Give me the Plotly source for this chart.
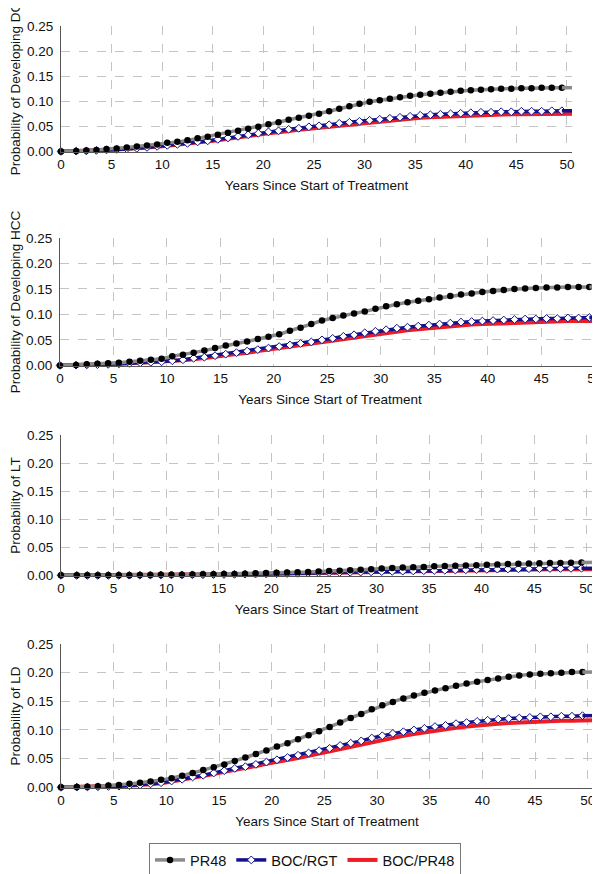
import plotly.graph_objects as go
from plotly.subplots import make_subplots

# sample times (first point, mid-cycle points, end of horizon)
years = [0] + [k + 0.5 for k in range(1, 51)]

y_titles = [
    "Probability of Developing DC",
    "Probability of Developing HCC",
    "Probability of LT",
    "Probability of LD",
]
x_title = "Years Since Start of Treatment"
series_names = ["PR48", "BOC/RGT", "BOC/PR48"]
y_ticks = [0.0, 0.05, 0.10, 0.15, 0.20, 0.25]
x_ticks = [0, 5, 10, 15, 20, 25, 30, 35, 40, 45, 50]

dc_pr48 = [0, 0.001, 0.002, 0.003, 0.005, 0.006, 0.008, 0.010, 0.012, 0.014,
           0.017, 0.019, 0.022, 0.026, 0.029, 0.033, 0.037, 0.041, 0.045, 0.049,
           0.054, 0.058, 0.063, 0.067, 0.071, 0.075, 0.080, 0.085, 0.090, 0.095,
           0.099, 0.102, 0.105, 0.108, 0.111, 0.113, 0.115, 0.117, 0.119, 0.121,
           0.122, 0.123, 0.124, 0.125, 0.125, 0.126, 0.126, 0.127, 0.127, 0.127,
           0.127]
dc_rgt = [0, 0.0005, 0.001, 0.002, 0.003, 0.004, 0.005, 0.006, 0.008, 0.010,
          0.012, 0.014, 0.016, 0.019, 0.021, 0.024, 0.027, 0.030, 0.033, 0.036,
          0.039, 0.041, 0.044, 0.046, 0.049, 0.051, 0.053, 0.056, 0.058, 0.060,
          0.062, 0.064, 0.066, 0.068, 0.070, 0.072, 0.073, 0.074, 0.075, 0.076,
          0.077, 0.078, 0.078, 0.079, 0.079, 0.080, 0.080, 0.080, 0.081, 0.081,
          0.081]
dc_boc48 = [0, 0.0005, 0.001, 0.002, 0.003, 0.004, 0.005, 0.006, 0.007, 0.009,
            0.011, 0.013, 0.015, 0.017, 0.020, 0.022, 0.025, 0.028, 0.030, 0.033,
            0.036, 0.038, 0.041, 0.043, 0.045, 0.047, 0.050, 0.052, 0.054, 0.056,
            0.058, 0.060, 0.062, 0.064, 0.065, 0.067, 0.068, 0.069, 0.070, 0.071,
            0.072, 0.072, 0.073, 0.073, 0.074, 0.074, 0.074, 0.075, 0.075, 0.075,
            0.075]

hcc_pr48 = [0, 0.001, 0.002, 0.003, 0.004, 0.005, 0.007, 0.009, 0.011, 0.013,
            0.018, 0.021, 0.025, 0.029, 0.034, 0.039, 0.043, 0.047, 0.052, 0.056,
            0.061, 0.068, 0.074, 0.081, 0.088, 0.093, 0.098, 0.102, 0.106, 0.111,
            0.116, 0.120, 0.124, 0.127, 0.130, 0.133, 0.136, 0.139, 0.141, 0.144,
            0.146, 0.148, 0.150, 0.151, 0.152, 0.153, 0.153, 0.154, 0.154, 0.154,
            0.154]
hcc_rgt = [0, 0.0005, 0.001, 0.0015, 0.002, 0.003, 0.004, 0.005, 0.006, 0.007,
           0.009, 0.011, 0.014, 0.016, 0.019, 0.022, 0.025, 0.028, 0.031, 0.034,
           0.037, 0.040, 0.043, 0.046, 0.050, 0.053, 0.057, 0.060, 0.064, 0.067,
           0.070, 0.073, 0.075, 0.077, 0.079, 0.081, 0.083, 0.085, 0.086, 0.087,
           0.088, 0.089, 0.090, 0.091, 0.091, 0.092, 0.092, 0.093, 0.093, 0.094,
           0.094]
hcc_boc48 = [0, 0.0005, 0.001, 0.0015, 0.002, 0.003, 0.004, 0.005, 0.006, 0.007,
             0.008, 0.010, 0.012, 0.014, 0.017, 0.020, 0.022, 0.025, 0.028, 0.031,
             0.034, 0.037, 0.040, 0.043, 0.046, 0.049, 0.052, 0.055, 0.058, 0.061,
             0.064, 0.067, 0.069, 0.071, 0.073, 0.075, 0.077, 0.079, 0.080, 0.081,
             0.082, 0.083, 0.084, 0.085, 0.085, 0.086, 0.086, 0.087, 0.087, 0.087,
             0.087]

lt_pr48 = [0, 0, 0, 0, 0, 0, 0.0003, 0.0005, 0.0007, 0.001,
           0.001, 0.0012, 0.0015, 0.0017, 0.002, 0.0022, 0.0025, 0.003, 0.0035, 0.004,
           0.0045, 0.005, 0.0055, 0.006, 0.007, 0.0075, 0.008, 0.009, 0.010, 0.011,
           0.012, 0.013, 0.014, 0.0145, 0.015, 0.016, 0.0165, 0.017, 0.0175, 0.018,
           0.019, 0.0195, 0.020, 0.0205, 0.021, 0.0215, 0.022, 0.022, 0.0225, 0.023,
           0.023]
lt_rgt = [0, 0, 0, 0, 0, 0, 0.0002, 0.0003, 0.0005, 0.0006,
          0.0007, 0.0008, 0.001, 0.0012, 0.0014, 0.0016, 0.0018, 0.002, 0.0023, 0.0026,
          0.003, 0.0033, 0.0036, 0.004, 0.0043, 0.0047, 0.005, 0.0054, 0.0058, 0.0062,
          0.0066, 0.007, 0.0074, 0.0078, 0.0082, 0.0086, 0.009, 0.0094, 0.0098, 0.0102,
          0.0106, 0.011, 0.0113, 0.0116, 0.0118, 0.012, 0.0122, 0.0123, 0.0124, 0.0125,
          0.0125]
lt_boc48 = [0, 0, 0, 0, 0, 0, 0.0002, 0.0003, 0.0004, 0.0005,
            0.0006, 0.0007, 0.0009, 0.0011, 0.0013, 0.0015, 0.0017, 0.0019, 0.0021, 0.0024,
            0.0027, 0.003, 0.0033, 0.0036, 0.0039, 0.0042, 0.0045, 0.0048, 0.0052, 0.0056,
            0.006, 0.0064, 0.0068, 0.0072, 0.0076, 0.008, 0.0083, 0.0086, 0.0089, 0.0092,
            0.0095, 0.0098, 0.010, 0.0102, 0.0104, 0.0106, 0.0107, 0.0108, 0.0109, 0.011,
            0.011]

ld_pr48 = [0, 0.0005, 0.001, 0.002, 0.003, 0.004, 0.006, 0.008, 0.010, 0.013,
           0.016, 0.020, 0.025, 0.030, 0.035, 0.040, 0.046, 0.052, 0.058, 0.064,
           0.071, 0.077, 0.084, 0.091, 0.098, 0.105, 0.113, 0.121, 0.128, 0.136,
           0.143, 0.149, 0.155, 0.160, 0.165, 0.169, 0.173, 0.177, 0.181, 0.184,
           0.187, 0.190, 0.193, 0.195, 0.197, 0.198, 0.199, 0.200, 0.201, 0.201,
           0.201]
ld_rgt = [0, 0.0003, 0.0006, 0.001, 0.0015, 0.002, 0.003, 0.004, 0.006, 0.008,
          0.011, 0.014, 0.018, 0.021, 0.025, 0.029, 0.033, 0.036, 0.040, 0.044,
          0.048, 0.052, 0.056, 0.060, 0.064, 0.068, 0.073, 0.077, 0.081, 0.086,
          0.090, 0.094, 0.097, 0.100, 0.103, 0.106, 0.108, 0.111, 0.113, 0.115,
          0.117, 0.119, 0.120, 0.121, 0.122, 0.123, 0.123, 0.124, 0.124, 0.125,
          0.125]
ld_boc48 = [0, 0.0003, 0.0006, 0.001, 0.0015, 0.002, 0.003, 0.004, 0.005, 0.007,
            0.010, 0.013, 0.016, 0.019, 0.023, 0.027, 0.030, 0.034, 0.037, 0.041,
            0.044, 0.048, 0.051, 0.055, 0.059, 0.063, 0.067, 0.071, 0.075, 0.079,
            0.083, 0.087, 0.090, 0.093, 0.096, 0.099, 0.102, 0.104, 0.106, 0.108,
            0.110, 0.111, 0.112, 0.113, 0.114, 0.115, 0.115, 0.116, 0.116, 0.117,
            0.117]

panels = [
    (dc_pr48, dc_rgt, dc_boc48),
    (hcc_pr48, hcc_rgt, hcc_boc48),
    (lt_pr48, lt_rgt, lt_boc48),
    (ld_pr48, ld_rgt, ld_boc48),
]

GRAY = "#8a8a8a"
NAVY = "#12128a"
RED = "#ee1c24"
FONT = "Liberation Sans, Arial, sans-serif"
W, H = 600, 874
OFF = 8  # page body margin shifts the figure by 8px

# pixel boxes of the four panels on the page: (left, right, top, bottom)
boxes = [(61, 572, 26, 152), (60, 600, 238, 366), (61, 592, 435, 576), (61, 593, 644, 788)]


def fx(px):
    return (px - OFF) / W


def fy(px):
    return (H - (px - OFF)) / H


fig = make_subplots(rows=4, cols=1)

for i, (pr48, rgt, boc48) in enumerate(panels):
    row = i + 1
    first = i == 0
    # red BOC/PR48 drawn first (under the others)
    fig.add_trace(
        go.Scatter(x=years, y=boc48, mode="lines", name=series_names[2],
                   line={"color": RED, "width": 4}, legendrank=3, showlegend=first),
        row, 1,
    )
    # BOC/RGT: navy line with white diamonds
    fig.add_trace(
        go.Scatter(x=years[:-1], y=rgt[:-1], mode="lines+markers", name=series_names[1],
                   line={"color": NAVY, "width": 3.5},
                   marker={"symbol": "diamond", "size": 6, "color": "white",
                           "line": {"color": NAVY, "width": 1}},
                   cliponaxis=False, legendrank=2, showlegend=first),
        row, 1,
    )
    fig.add_trace(
        go.Scatter(x=years[-2:], y=rgt[-2:], mode="lines", line={"color": NAVY, "width": 3.5},
                   showlegend=False, hoverinfo="skip"),
        row, 1,
    )
    # PR48: gray line with black dots
    fig.add_trace(
        go.Scatter(x=years[:-1], y=pr48[:-1], mode="lines+markers", name=series_names[0],
                   line={"color": GRAY, "width": 3.5},
                   marker={"symbol": "circle", "size": 6.5, "color": "black"},
                   cliponaxis=False, legendrank=1, showlegend=first),
        row, 1,
    )
    fig.add_trace(
        go.Scatter(x=years[-2:], y=pr48[-2:], mode="lines", line={"color": GRAY, "width": 3.5},
                   showlegend=False, hoverinfo="skip"),
        row, 1,
    )

    l, r, t, b = boxes[i]
    fig.update_xaxes(
        domain=[fx(l), fx(r)], range=[0, 50.5], tickvals=x_ticks,
        title={"text": x_title, "font": {"size": 13.5, "color": "#111"}, "standoff": 9},
        row=row, col=1,
    )
    fig.update_yaxes(
        domain=[fy(b), fy(t)], range=[-0.0012, 0.25], tickvals=y_ticks,
        tickformat=".2f",
        title={"text": y_titles[i], "font": {"size": 13.5, "color": "#111"}, "standoff": 5},
        row=row, col=1,
    )

fig.update_xaxes(
    showgrid=True, gridcolor="#c4c4c4", griddash="dash", gridwidth=1,
    showline=True, linecolor="#555", linewidth=1, mirror=False, zeroline=False,
    ticks="", tickfont={"size": 13.5, "color": "#111"}, automargin=False,
)
fig.update_yaxes(
    showgrid=True, gridcolor="#c4c4c4", griddash="dash", gridwidth=1,
    showline=True, linecolor="#555", linewidth=1, mirror=False, zeroline=False,
    ticks="", ticklabelstandoff=4, tickfont={"size": 13.5, "color": "#111"}, automargin=False,
)

fig.update_layout(
    template="none",
    width=W, height=H,
    margin={"l": 0, "r": 0, "t": 0, "b": 0},
    paper_bgcolor="white", plot_bgcolor="white",
    font={"family": FONT, "size": 13.5, "color": "#111"},
    showlegend=True,
    legend={
        "orientation": "h", "x": fx(149), "y": fy(843),
        "xanchor": "left", "yanchor": "top",
        "bordercolor": "#777", "borderwidth": 1, "bgcolor": "white",
        "font": {"size": 14.5, "color": "#111"}, "itemwidth": 30,
        "traceorder": "normal",
    },
)

fig.write_html("out.html")
